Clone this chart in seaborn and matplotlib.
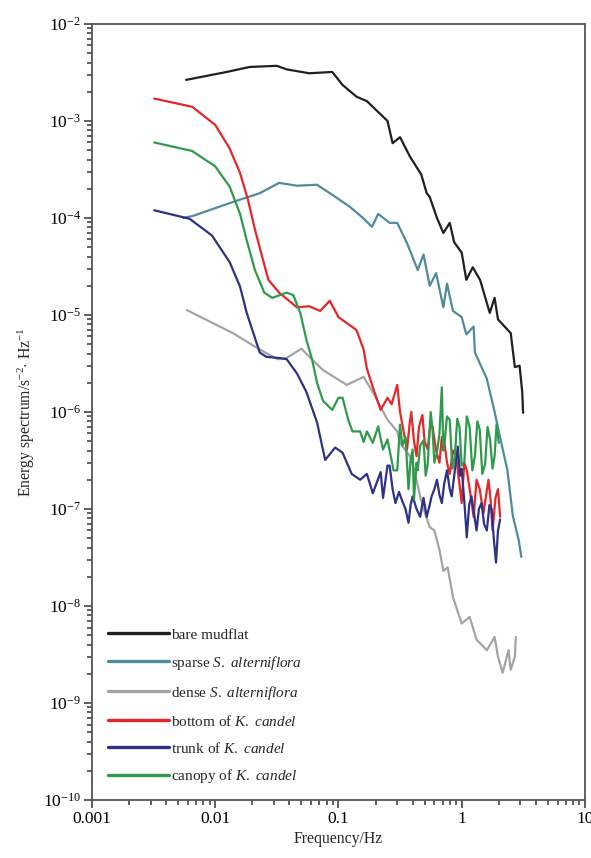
import numpy as np
import pandas as pd
import seaborn as sns
import matplotlib.pyplot as plt
from matplotlib.ticker import LogLocator, FixedFormatter, FixedLocator, NullFormatter

# values (frequency in Hz, energy spectrum)
bare_f = [0.0058, 0.0124, 0.019, 0.0316, 0.038, 0.058, 0.089, 0.108, 0.14, 0.17, 0.25, 0.275,
          0.316, 0.38, 0.44, 0.47, 0.52, 0.55, 0.63, 0.71, 0.80, 0.87, 1.0, 1.09, 1.23, 1.41,
          1.69, 1.85, 1.97, 2.5, 2.7, 2.95, 3.1, 3.15]
bare_e = [2.65e-3, 3.2e-3, 3.6e-3, 3.7e-3, 3.4e-3, 3.1e-3, 3.2e-3, 2.35e-3, 1.78e-3, 1.6e-3, 1.0e-3, 5.9e-4,
          6.8e-4, 4.3e-4, 3.2e-4, 2.8e-4, 1.8e-4, 1.65e-4, 1.0e-4, 7.0e-5, 8.9e-5, 5.6e-5, 4.4e-5, 2.3e-5, 3.1e-5, 2.3e-5,
          1.05e-5, 1.5e-5, 9e-6, 6.5e-6, 2.9e-6, 3.0e-6, 1.6e-6, 9.8e-7]

sparse_f = [0.0055, 0.0066, 0.0139, 0.023, 0.033, 0.046, 0.067, 0.088, 0.124, 0.158, 0.187, 0.21,
            0.26, 0.30, 0.36, 0.44, 0.49, 0.55, 0.62, 0.71, 0.76, 0.85, 1.0, 1.09, 1.25, 1.28,
            1.6, 1.85, 2.0, 2.35, 2.6, 2.9, 3.05]
sparse_e = [1.0e-4, 1.05e-4, 1.46e-4, 1.8e-4, 2.3e-4, 2.15e-4, 2.2e-4, 1.75e-4, 1.3e-4, 1.0e-4, 8.1e-5, 1.1e-4,
            8.9e-5, 8.9e-5, 5.5e-5, 2.9e-5, 4.2e-5, 2.0e-5, 2.7e-5, 1.2e-5, 2.1e-5, 1.1e-5, 9.5e-6, 6.3e-6, 7.6e-6, 4.1e-6,
            2.2e-6, 1.0e-6, 6.3e-7, 2.5e-7, 8.5e-8, 4.8e-8, 3.2e-8]

dense_f = [0.0059, 0.0139, 0.023, 0.032, 0.038, 0.05, 0.058, 0.075, 0.097, 0.117, 0.16, 0.19,
           0.25, 0.30, 0.316, 0.38, 0.41, 0.46, 0.5, 0.55, 0.6, 0.66, 0.71, 0.77, 0.85, 1.0,
           1.16, 1.32, 1.6, 1.85, 1.97, 2.15, 2.4, 2.5, 2.7, 2.75]
dense_e = [1.12e-5, 6.5e-6, 4.4e-6, 3.5e-6, 3.6e-6, 4.5e-6, 3.7e-6, 2.7e-6, 2.2e-6, 1.9e-6, 2.3e-6, 1.6e-6,
           8.3e-7, 6.3e-7, 4.8e-7, 3.5e-7, 2.6e-7, 1.35e-7, 9.3e-8, 6.5e-8, 6e-8, 3.8e-8, 2.3e-8, 2.5e-8, 1.23e-8, 6.6e-9,
           7.7e-9, 4.5e-9, 3.5e-9, 4.8e-9, 3e-9, 2.05e-9, 3.5e-9, 2.2e-9, 3e-9, 4.8e-9]

bottom_f = [0.0032, 0.0065, 0.01, 0.0131, 0.0159, 0.0184, 0.021, 0.024, 0.027, 0.033, 0.046, 0.058,
            0.071, 0.085, 0.1, 0.14, 0.16, 0.17, 0.19, 0.22, 0.25, 0.27, 0.30, 0.316, 0.34, 0.36,
            0.38, 0.39, 0.41, 0.43, 0.45, 0.48, 0.50, 0.53, 0.56, 0.58, 0.62, 0.66, 0.69, 0.72,
            0.76, 0.80, 0.85, 0.9, 0.95, 1.0, 1.05, 1.1, 1.17, 1.25, 1.32, 1.4, 1.5, 1.58, 1.65,
            1.72, 1.78, 1.88, 1.97, 2.05]
bottom_e = [1.7e-3, 1.4e-3, 9.1e-4, 5.2e-4, 2.9e-4, 1.55e-4, 7.6e-5, 4.0e-5, 2.3e-5, 1.7e-5, 1.2e-5, 1.23e-5,
            1.1e-5, 1.4e-5, 9.5e-6, 7e-6, 4.4e-6, 2.8e-6, 1.8e-6, 1.05e-6, 1.4e-6, 1.2e-6, 1.9e-6, 1.0e-6, 6e-7, 4.1e-7,
            8e-7, 1.0e-6, 5e-7, 3.5e-7, 7e-7, 9.3e-7, 5e-7, 4.1e-7, 8e-7, 7e-7, 4e-7, 3e-7, 5.5e-7, 5.1e-7,
            3e-7, 2.3e-7, 4e-7, 3.5e-7, 2e-7, 1.15e-7, 3e-7, 2.5e-7, 1.5e-7, 8.3e-8, 2e-7, 1.6e-7, 9e-8, 1.4e-7, 2e-7,
            1.2e-7, 6e-8, 1.3e-7, 1.6e-7, 8.3e-8]

trunk_f = [0.0032, 0.0062, 0.0094, 0.0131, 0.0159, 0.018, 0.021, 0.023, 0.026, 0.033, 0.038, 0.046,
           0.055, 0.067, 0.078, 0.094, 0.108, 0.128, 0.15, 0.17, 0.19, 0.22, 0.23, 0.25, 0.26, 0.275,
           0.29, 0.31, 0.33, 0.35, 0.37, 0.385, 0.40, 0.43, 0.46, 0.49, 0.52, 0.55, 0.57, 0.60,
           0.63, 0.66, 0.69, 0.72, 0.76, 0.80, 0.83, 0.88, 0.93, 0.97, 1.0, 1.05, 1.1, 1.15, 1.2,
           1.26, 1.32, 1.38, 1.45, 1.52, 1.6, 1.68, 1.75, 1.82, 1.9, 1.97, 2.05]
trunk_e = [1.2e-4, 9.8e-5, 6.6e-5, 3.5e-5, 1.96e-5, 1.05e-5, 5.8e-6, 4.1e-6, 3.7e-6, 3.6e-6, 3.5e-6, 2.5e-6,
           1.6e-6, 7.8e-7, 3.2e-7, 4.3e-7, 3.8e-7, 2.3e-7, 2e-7, 2.3e-7, 1.45e-7, 2.4e-7, 1.3e-7, 2.8e-7, 2.8e-7, 1.6e-7,
           1.15e-7, 1.5e-7, 1.2e-7, 1.0e-7, 7.2e-8, 1.1e-7, 1.35e-7, 1.0e-7, 8.3e-8, 1.3e-7, 8.3e-8, 1.1e-7, 1.35e-7, 1.6e-7,
           2e-7, 1.4e-7, 1.15e-7, 1.8e-7, 2.5e-7, 1.6e-7, 1.35e-7, 2.5e-7, 4.4e-7, 2.2e-7, 2.6e-7, 1.2e-7, 5.1e-8, 1.1e-7, 1.35e-7,
           9e-8, 6e-8, 1.0e-7, 1.15e-7, 7e-8, 6e-8, 1.1e-7, 1e-7, 5e-8, 2.8e-8, 6e-8, 7.8e-8]

canopy_f = [0.0032, 0.0065, 0.01, 0.0131, 0.0159, 0.018, 0.021, 0.025, 0.029, 0.038, 0.043, 0.049,
            0.055, 0.061, 0.067, 0.075, 0.089, 0.1, 0.108, 0.12, 0.13, 0.15, 0.16, 0.17, 0.19, 0.21,
            0.23, 0.25, 0.28, 0.30, 0.316, 0.33, 0.35, 0.37, 0.385, 0.40, 0.41, 0.43, 0.44, 0.46,
            0.49, 0.51, 0.53, 0.56, 0.58, 0.60, 0.63, 0.66, 0.69, 0.71, 0.73, 0.76, 0.80, 0.84,
            0.88, 0.92, 0.96, 1.0, 1.05, 1.1, 1.16, 1.22, 1.28, 1.34, 1.4, 1.47, 1.55, 1.62, 1.7,
            1.78, 1.85, 1.92, 2.0]
canopy_e = [6.0e-4, 4.9e-4, 3.4e-4, 2.1e-4, 1.1e-4, 5.9e-5, 2.9e-5, 1.7e-5, 1.5e-5, 1.7e-5, 1.6e-5, 1.05e-5,
            5.5e-6, 3.5e-6, 2e-6, 1.3e-6, 1.05e-6, 1.4e-6, 1.4e-6, 8.3e-7, 6.3e-7, 6.3e-7, 4.9e-7, 6.3e-7, 4.8e-7, 7.1e-7,
            4.1e-7, 5.2e-7, 2.5e-7, 2.5e-7, 7.4e-7, 4.5e-7, 5.5e-7, 1.6e-7, 3.2e-7, 4.1e-7, 1.25e-7, 3.0e-7, 2.5e-7, 4.5e-7,
            5.1e-7, 2.2e-7, 2.9e-7, 1.0e-6, 6.6e-7, 3.0e-7, 3.8e-7, 6.0e-7, 1.8e-6, 4.0e-7, 5.2e-7, 9.0e-7, 8.3e-7, 2.6e-7,
            3.5e-7, 8.5e-7, 7e-7, 2.8e-7, 3e-7, 9e-7, 7e-7, 2.5e-7, 3.5e-7, 8e-7, 6.6e-7, 2.3e-7, 2.9e-7, 7e-7, 5.2e-7,
            2.6e-7, 3.5e-7, 7.5e-7, 4.8e-7]

labels = ["bare mudflat",
          r"sparse $\it{S.\ alterniflora}$",
          r"dense $\it{S.\ alterniflora}$",
          r"bottom of $\it{K.\ candel}$",
          r"trunk of $\it{K.\ candel}$",
          r"canopy of $\it{K.\ candel}$"]
colors = ["#231f20", "#4f8c9b", "#a3a4a6", "#e5262b", "#2e3286", "#2f9a4c"]
x_ticks = [0.001, 0.01, 0.1, 1, 10]
x_tick_labels = ["0.001", "0.01", "0.1", "1", "10"]

series = [(bare_f, bare_e), (sparse_f, sparse_e), (dense_f, dense_e),
          (bottom_f, bottom_e), (trunk_f, trunk_e), (canopy_f, canopy_e)]
frames = []
for lab, (f, e) in zip(labels, series):
    frames.append(pd.DataFrame({"freq": f, "energy": e, "site": lab}))
df = pd.concat(frames, ignore_index=True)

sns.set_theme(style="white")
plt.rcParams["font.family"] = ["Liberation Serif", "DejaVu Serif"]
plt.rcParams["mathtext.fontset"] = "custom"
plt.rcParams["mathtext.rm"] = "Liberation Serif"
plt.rcParams["mathtext.it"] = "Liberation Serif:italic"

fig = plt.figure(figsize=(5.91, 8.58), dpi=100)
ax = fig.add_axes([0.1557, 0.0676, 0.834, 0.9045])

sns.lineplot(data=df, x="freq", y="energy", hue="site", hue_order=labels,
             palette=colors, sort=False, estimator=None, units="site",
             linewidth=1.6, ax=ax, legend=True)

ax.set_xscale("log")
ax.set_yscale("log")
ax.set_xlim(0.001, 10)
ax.set_ylim(1e-10, 1e-2)

ax.xaxis.set_major_locator(FixedLocator(x_ticks))
ax.xaxis.set_major_formatter(FixedFormatter(x_tick_labels))
ax.xaxis.set_minor_locator(LogLocator(base=10, subs=np.arange(2, 10)))
ax.xaxis.set_minor_formatter(NullFormatter())
ax.yaxis.set_major_locator(LogLocator(base=10, numticks=20))
ax.yaxis.set_minor_locator(LogLocator(base=10, subs=np.arange(2, 10), numticks=20))
ax.yaxis.set_minor_formatter(NullFormatter())

ax.tick_params(which="both", direction="out", color="#444444", width=1.2,
               bottom=True, left=True, top=False, right=False)
ax.tick_params(which="major", length=6, labelsize=12.5, labelcolor="black", pad=2)
ax.tick_params(which="minor", length=3.5)
for sp in ax.spines.values():
    sp.set_color("#555555")
    sp.set_linewidth(1.3)

ax.set_xlabel("Frequency/Hz", fontsize=11.3, labelpad=3)
ax.set_ylabel(r"Energy spectrum/s$^{-2}$$\cdot$ Hz$^{-1}$", fontsize=11.3, labelpad=4)

handles, labs = ax.get_legend_handles_labels()
for h in handles:
    h.set_linewidth(2.4)
ax.legend(handles, labs, loc="lower left", bbox_to_anchor=(0.01, 0.005), frameon=False,
          fontsize=11, handlelength=4.0, handletextpad=0.15, labelspacing=0.78,
          borderaxespad=0.3)

fig.savefig("out.png", dpi=100)
